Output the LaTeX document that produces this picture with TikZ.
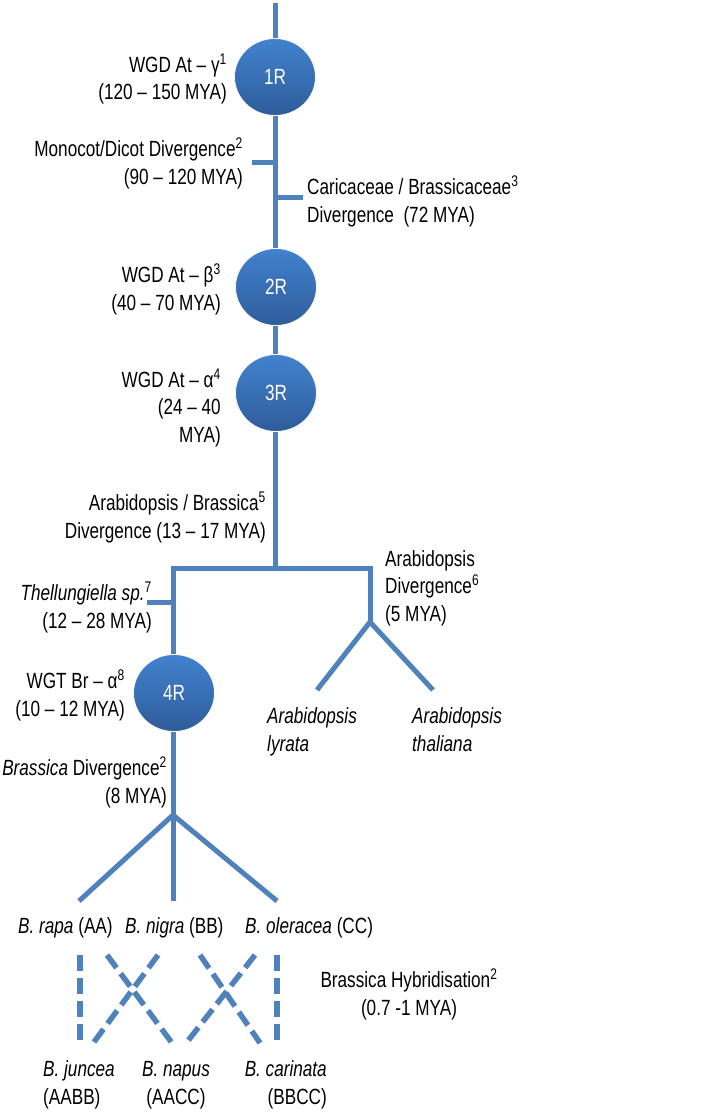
\documentclass[tikz,border=0pt]{standalone}
\usepackage{fontspec}
\setmainfont[FakeStretch=0.78]{Liberation Sans}
\usetikzlibrary{shapes.geometric}
\definecolor{ln}{HTML}{4F81BD}
\definecolor{ctop}{HTML}{4282CF}
\definecolor{cbot}{HTML}{2E5C9A}
\begin{document}
\begin{tikzpicture}[x=1pt,y=-1pt,
  lbl/.style={inner sep=0pt, font=\fontsize{22}{27.5}\selectfont},
  br/.style={line width=5pt, draw=ln, line join=miter},
  hy/.style={line width=5.5pt, draw=ln, dash pattern=on 16pt off 7pt},
  rnode/.style={ellipse, minimum width=81pt, minimum height=77pt, inner sep=0pt,
    top color=ctop, bottom color=cbot, draw=white, line width=0.8pt, text=white,
    font=\fontsize{22}{24}\selectfont}]
\useasboundingbox (0,0) rectangle (701,1112);
% branch points
\coordinate (top) at (275,3);
\coordinate (m1) at (275,162);
\coordinate (m1e) at (252,162);
\coordinate (c1) at (275,197);
\coordinate (c1e) at (303,197);
\coordinate (j) at (275,568);
\coordinate (jl) at (173,568);
\coordinate (jr) at (370,568);
\coordinate (ab) at (370,622);
\coordinate (aly) at (317,690);
\coordinate (ath) at (433,690);
\coordinate (th) at (173,602);
\coordinate (the) at (147,602);
\coordinate (bb) at (173,815);
\coordinate (bra) at (79,901);
\coordinate (bni) at (173,901);
\coordinate (bol) at (277,901);
% main lines
\draw[br] (top) -- (275,40);
\draw[br] (275,110) -- (j);
\draw[br] (m1e) -- (m1);
\draw[br] (c1) -- (c1e);
\draw[br] (jl |- 0,655) -- (jl) -- (jr) -- (ab);
\draw[br] (ab) -- (aly);
\draw[br] (ab) -- (ath);
\draw[br] (the) -- (th);
\draw[br] (173,730) -- (bni);
\draw[br] (bb) -- (bra);
\draw[br] (bb) -- (bol);
% R nodes
\node[rnode] (r1) at (275,77) {1R};
\node[rnode] (r2) at (276,287) {2R};
\node[rnode] (r3) at (276,393) {3R};
\node[rnode] (r4) at (174,693) {4R};
% labels (anchor base = last line's baseline)
\node[lbl, anchor=base east, align=right] (t1) at (227,99.5) {WGD At – γ\textsuperscript{1}\\(120 – 150 MYA)};
\node[lbl, anchor=base east, align=right] (t2) at (243,184) {Monocot/Dicot Divergence\textsuperscript{2}\\(90 – 120 MYA)};
\node[lbl, anchor=base west, align=left] (t3) at (307,222) {Caricaceae / Brassicaceae\textsuperscript{3}\\Divergence\ \ (72 MYA)};
\node[lbl, anchor=base east, align=right] (t4) at (221,310) {WGD At – β\textsuperscript{3}\\(40 – 70 MYA)};
\node[lbl, anchor=base east, align=right] (t5) at (221,442) {WGD At – α\textsuperscript{4}\\(24 – 40\\MYA)};
\node[lbl, anchor=base east, align=right] (t6) at (266,538) {Arabidopsis / Brassica\textsuperscript{5}\\Divergence (13 – 17 MYA)};
\node[lbl, anchor=base east, align=right] (t7) at (152,628) {\textit{Thellungiella sp.}\textsuperscript{7}\\(12 – 28 MYA)};
\node[lbl, anchor=base west, align=left] (t8) at (385,621) {Arabidopsis\\Divergence\textsuperscript{6}\\(5 MYA)};
\node[lbl, anchor=base east, align=right] (t9) at (125,716) {WGT Br – α\textsuperscript{8}\\(10 – 12 MYA)};
\node[lbl, anchor=base west, align=left] (t10) at (267,751) {\textit{Arabidopsis}\\\textit{lyrata}};
\node[lbl, anchor=base west, align=left] (t11) at (412,751) {\textit{Arabidopsis}\\\textit{thaliana}};
\node[lbl, anchor=base east, align=right] (t12) at (167,803) {\textit{Brassica} Divergence\textsuperscript{2}\\(8 MYA)};
\node[lbl, anchor=base west] (s1) at (18,933) {\textit{B. rapa} (AA)};
\node[lbl, anchor=base west] (s2) at (125,933) {\textit{B. nigra} (BB)};
\node[lbl, anchor=base west] (s3) at (245,933) {\textit{B. oleracea} (CC)};
\node[lbl, anchor=base, align=center] (t13) at (409,1015) {Brassica Hybridisation\textsuperscript{2}\\(0.7 -1 MYA)};
\node[lbl, anchor=base west, align=left] (h1) at (43,1104) {\textit{B. juncea}\\(AABB)};
\node[lbl, anchor=base, align=center] (h2) at (176,1104) {\textit{B. napus}\\(AACC)};
\node[lbl, anchor=base east, align=right] (h3) at (327,1104) {\textit{B. carinata}\\(BBCC)};
% hybridisation
\coordinate (d1a) at (80,955);   \coordinate (d1b) at (80,1040);
\coordinate (d2a) at (107,955);  \coordinate (d2b) at (172,1043);
\coordinate (d3a) at (158,955);  \coordinate (d3b) at (94,1042);
\coordinate (d4a) at (200,955);  \coordinate (d4b) at (260,1043);
\coordinate (d5a) at (255,955);  \coordinate (d5b) at (187,1042);
\coordinate (d6a) at (277,955);  \coordinate (d6b) at (277,1040);
\draw[hy] (d1a) -- (d1b);
\draw[hy] (d2a) -- (d2b);
\draw[hy] (d3a) -- (d3b);
\draw[hy] (d4a) -- (d4b);
\draw[hy] (d5a) -- (d5b);
\draw[hy] (d6a) -- (d6b);
\end{tikzpicture}
\end{document}
